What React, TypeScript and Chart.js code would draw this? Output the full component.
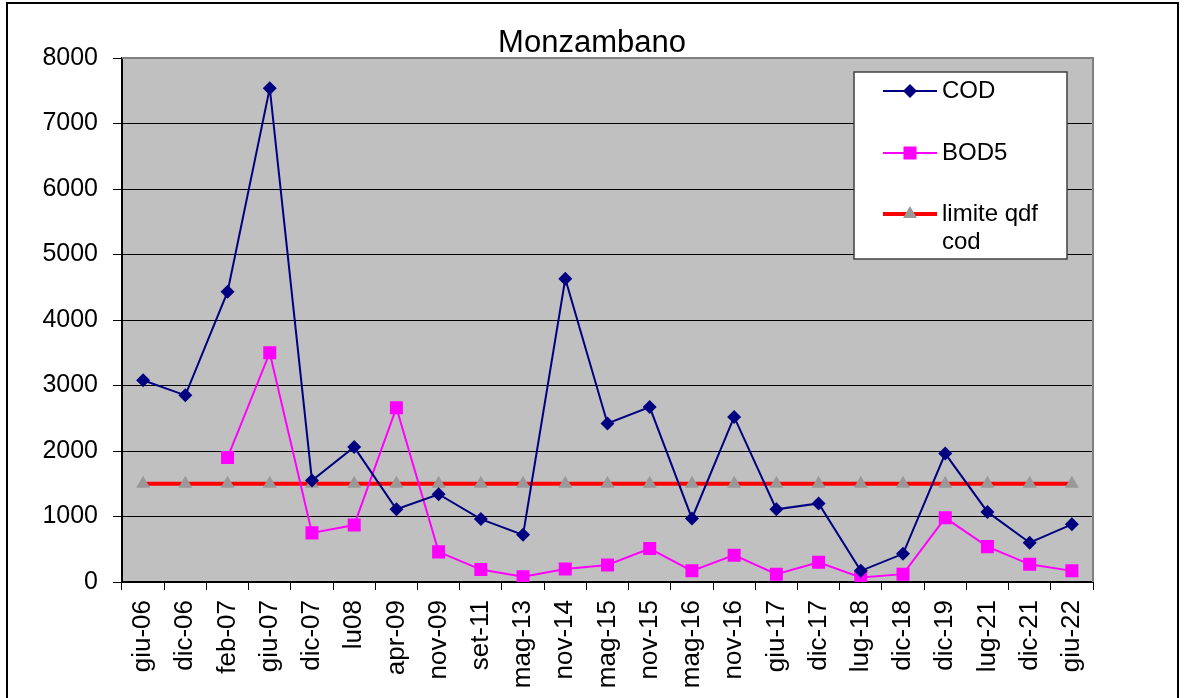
import React, { useEffect, useRef } from "react";
import { Chart, registerables } from "chart.js";

Chart.register(...registerables);

const FONT = "'Liberation Sans', Arial, sans-serif";

const chartTitle = "Monzambano";

const categories = [
  "giu-06", "dic-06", "feb-07", "giu-07", "dic-07", "lu08", "apr-09", "nov-09",
  "set-11", "mag-13", "nov-14", "mag-15", "nov-15", "mag-16", "nov-16", "giu-17",
  "dic-17", "lug-18", "dic-18", "dic-19", "lug-21", "dic-21", "giu-22",
];

const codValues = [
  3080, 2850, 4430, 7540, 1550, 2060, 1110, 1340, 960, 720, 4630, 2420,
  2670, 970, 2520, 1110, 1200, 170, 430, 1960, 1070, 600, 880,
];

const bod5Values = [
  null, null, 1900, 3500, 750, 870, 2660, 460, 190, 80, 200, 260,
  510, 170, 410, 120, 300, 70, 120, 980, 540, 270, 170,
];

const limitValues = [
  1500, 1500, 1500, 1500, 1500, 1500, 1500, 1500, 1500, 1500, 1500, 1500,
  1500, 1500, 1500, 1500, 1500, 1500, 1500, 1500, 1500, 1500, 1500,
];

const seriesLabels = ["COD", "BOD5", "limite qdf cod"];

const yTicks = { min: 0, max: 8000, step: 1000 };

function drawMarker(ctx: CanvasRenderingContext2D, style: string, x: number, y: number, r: number, color: string) {
  ctx.save();
  ctx.fillStyle = color;
  ctx.beginPath();
  if (style === "rectRot") {
    ctx.moveTo(x, y - r);
    ctx.lineTo(x + r, y);
    ctx.lineTo(x, y + r);
    ctx.lineTo(x - r, y);
    ctx.closePath();
  } else if (style === "rect") {
    const s = Math.SQRT1_2 * r;
    ctx.rect(x - s, y - s, 2 * s, 2 * s);
  } else if (style === "triangle") {
    ctx.moveTo(x, y - r);
    ctx.lineTo(x + 0.866 * r, y + r / 2);
    ctx.lineTo(x - 0.866 * r, y + r / 2);
    ctx.closePath();
  }
  ctx.fill();
  ctx.restore();
}

function wrapText(ctx: CanvasRenderingContext2D, text: string, maxW: number): string[] {
  const words = text.split(" ");
  const lines: string[] = [];
  let cur = "";
  for (const w of words) {
    const test = cur ? cur + " " + w : w;
    if (ctx.measureText(test).width > maxW && cur) {
      lines.push(cur);
      cur = w;
    } else {
      cur = test;
    }
  }
  if (cur) lines.push(cur);
  return lines;
}

const decorPlugin = {
  id: "decor",
  beforeDraw(chart: any) {
    const { ctx, chartArea: a, width, height } = chart;
    ctx.save();
    ctx.fillStyle = "#ffffff";
    ctx.fillRect(0, 0, width, height);
    ctx.strokeStyle = "#000000";
    ctx.lineWidth = 2;
    ctx.strokeRect(7, 3, 1171, 760);
    ctx.fillStyle = "#C0C0C0";
    ctx.fillRect(a.left, a.top, a.right - a.left, a.bottom - a.top);
    ctx.restore();
  },
  beforeDatasetsDraw(chart: any) {
    const { ctx, chartArea: a } = chart;
    ctx.save();
    ctx.strokeStyle = "#808080";
    ctx.lineWidth = 2;
    ctx.beginPath();
    ctx.moveTo(a.left, a.top);
    ctx.lineTo(a.right, a.top);
    ctx.lineTo(a.right, a.bottom);
    ctx.stroke();
    ctx.strokeStyle = "#000000";
    ctx.lineWidth = 1;
    ctx.beginPath();
    ctx.moveTo(a.right + 0.5, a.bottom);
    ctx.lineTo(a.right + 0.5, a.bottom + 8);
    ctx.stroke();
    ctx.restore();
  },
  afterDraw(chart: any) {
    const { ctx, width } = chart;
    ctx.save();
    // title
    ctx.fillStyle = "#000000";
    ctx.font = `31px ${FONT}`;
    ctx.textAlign = "center";
    ctx.textBaseline = "alphabetic";
    ctx.fillText(chartTitle, width / 2, 52);

    // legend box
    const bx = 854, by = 72, bw = 213, bh = 187;
    ctx.fillStyle = "#ffffff";
    ctx.fillRect(bx, by, bw, bh);
    ctx.strokeStyle = "#404040";
    ctx.lineWidth = 1.5;
    ctx.strokeRect(bx, by, bw, bh);

    const rows = [91, 153, 214];
    const styles = ["rectRot", "rect", "triangle"];
    const radii = [7, 9.2, 8];
    ctx.font = `24px ${FONT}`;
    ctx.textAlign = "left";
    ctx.textBaseline = "middle";
    chart.data.datasets.forEach((ds: any, i: number) => {
      const y = rows[i];
      ctx.strokeStyle = ds.borderColor;
      ctx.lineWidth = ds.borderWidth;
      ctx.beginPath();
      ctx.moveTo(883, y);
      ctx.lineTo(937, y);
      ctx.stroke();
      drawMarker(ctx, styles[i], 910, y, radii[i], ds.pointBackgroundColor);
      ctx.fillStyle = "#000000";
      const lines = wrapText(ctx, ds.label, 118);
      lines.forEach((ln, j) => ctx.fillText(ln, 942, y + j * 28));
    });
    ctx.restore();
  },
};

export default function App() {
  const canvasRef = useRef<HTMLCanvasElement | null>(null);

  useEffect(() => {
    if (!canvasRef.current) return;
    const chart = new Chart(canvasRef.current, {
      type: "line",
      data: {
        labels: categories,
        datasets: [
          {
            label: seriesLabels[0],
            data: codValues,
            borderColor: "#000080",
            backgroundColor: "#000080",
            pointBackgroundColor: "#000080",
            pointBorderColor: "#000080",
            borderWidth: 2,
            pointStyle: "rectRot",
            pointRadius: 7,
            pointBorderWidth: 0,
            tension: 0,
          },
          {
            label: seriesLabels[1],
            data: bod5Values,
            borderColor: "#FF00FF",
            backgroundColor: "#FF00FF",
            pointBackgroundColor: "#FF00FF",
            pointBorderColor: "#FF00FF",
            borderWidth: 2,
            pointStyle: "rect",
            pointRadius: 9.2,
            pointBorderWidth: 0,
            tension: 0,
          },
          {
            label: seriesLabels[2],
            data: limitValues,
            borderColor: "#FF0000",
            backgroundColor: "#999999",
            pointBackgroundColor: "#999999",
            pointBorderColor: "#999999",
            borderWidth: 4,
            pointStyle: "triangle",
            pointRadius: 8,
            pointBorderWidth: 0,
            tension: 0,
          },
        ],
      } as any,
      options: {
        responsive: false,
        animation: false,
        devicePixelRatio: 1,
        layout: { padding: { top: 58, right: 91, left: 0, bottom: 0 } },
        plugins: {
          legend: { display: false },
          title: { display: false },
          tooltip: { enabled: false },
        },
        scales: {
          x: {
            type: "category",
            offset: true,
            grid: {
              offset: true,
              drawOnChartArea: false,
              drawTicks: true,
              tickLength: 8,
              color: "#000000",
              lineWidth: 1,
            },
            border: { display: true, color: "#000000", width: 2 },
            ticks: {
              autoSkip: false,
              maxRotation: 90,
              minRotation: 90,
              padding: 10,
              color: "#000000",
              font: { family: FONT, size: 26 },
            },
            afterFit: (s: any) => {
              s.height = 116;
            },
          },
          y: {
            min: yTicks.min,
            max: yTicks.max,
            ticks: {
              stepSize: yTicks.step,
              padding: 15,
              color: "#000000",
              font: { family: FONT, size: 25 },
              callback: (v: any) => String(v),
            },
            grid: { color: "#000000", lineWidth: 1, tickLength: 9 },
            border: { display: true, color: "#000000", width: 2 },
            afterFit: (s: any) => {
              s.width = 122;
            },
          },
        },
      } as any,
      plugins: [decorPlugin],
    });
    return () => chart.destroy();
  }, []);

  return (
    <div style={{ position: "absolute", left: 0, top: 0, width: 1184, height: 698 }}>
      <canvas ref={canvasRef} width={1184} height={698} style={{ display: "block" }} />
    </div>
  );
}
